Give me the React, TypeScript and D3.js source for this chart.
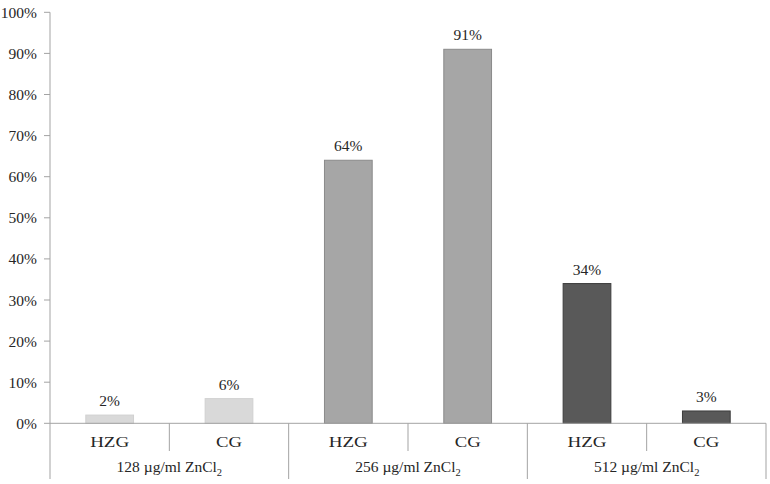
import * as d3 from "d3";

const WIDTH = 770;
const HEIGHT = 484;
const X0 = 50;
const X1 = 766;
const Y0 = 423.3;
const Y1 = 12.3;

const groups = ["128", "256", "512"];
const groupLabels = ["128 µg/ml ZnCl", "256 µg/ml ZnCl", "512 µg/ml ZnCl"];
const subs = ["HZG", "CG"];
const values = [
  [0.02, 0.06],
  [0.64, 0.91],
  [0.34, 0.03],
];
const yTicks = [0, 0.1, 0.2, 0.3, 0.4, 0.5, 0.6, 0.7, 0.8, 0.9, 1.0];

const fills = ["#d9d9d9", "#a6a6a6", "#595959"];
const strokes = ["#d0d0d0", "#8a8a8a", "#3c3c3c"];
const AXIS = "#a3a3a3";
const FONT = "Liberation Serif, Times New Roman, serif";
const TEXT = "#262626";
const textStyle = { fontFamily: FONT, fontSize: "15.5px" };
// the reference's capitals run a little wider than Liberation Serif's
const subWidth: Record<string, number> = { HZG: 39, CG: 26 };

export default function App() {
  const x = d3.scaleBand<string>().domain(groups).range([X0, X1]).padding(0);
  const xSub = d3
    .scaleBand<string>()
    .domain(subs)
    .range([0, x.bandwidth()])
    .paddingInner(0.6)
    .paddingOuter(0.3);
  const xSlot = d3.scaleBand<string>().domain(subs).range([0, x.bandwidth()]).padding(0);
  const y = d3.scaleLinear().domain([0, 1]).range([Y0, Y1]);
  const pct = d3.format(".0%");

  return (
    <svg
      width={WIDTH}
      height={HEIGHT}
      style={{ position: "absolute", left: 0, top: 0, background: "#fff" }}
    >
      {/* y axis */}
      <line x1={X0} x2={X0} y1={Y1} y2={Y0} stroke={AXIS} strokeWidth={1} />
      {yTicks.map((t) => (
        <g key={t}>
          <line x1={X0 - 6} x2={X0} y1={y(t)} y2={y(t)} stroke={AXIS} />
          <text x={37} y={y(t) + 5.5} textAnchor="end" style={textStyle} fill={TEXT}>
            {pct(t)}
          </text>
        </g>
      ))}

      {/* bars */}
      {groups.map((g, gi) =>
        subs.map((s, si) => {
          const v = values[gi][si];
          const bx = (x(g) ?? 0) + (xSub(s) ?? 0);
          const bw = xSub.bandwidth();
          return (
            <g key={g + s}>
              <rect
                x={bx}
                y={y(v)}
                width={bw}
                height={Y0 - y(v)}
                fill={fills[gi]}
                stroke={strokes[gi]}
                strokeWidth={1}
              />
              <text
                x={bx + bw / 2}
                y={y(v) - 9}
                textAnchor="middle"
                style={textStyle}
                fill={TEXT}
              >
                {pct(v)}
              </text>
            </g>
          );
        })
      )}

      {/* x axis */}
      <line x1={X0} x2={X1} y1={Y0} y2={Y0} stroke={AXIS} />
      {groups.map((g) => (
        <line
          key={"gl" + g}
          x1={(x(g) ?? 0) + x.bandwidth()}
          x2={(x(g) ?? 0) + x.bandwidth()}
          y1={Y0}
          y2={479}
          stroke={AXIS}
        />
      ))}
      <line x1={X0} x2={X0} y1={Y0} y2={479} stroke={AXIS} />
      {groups.map((g) => (
        <line
          key={"sl" + g}
          x1={(x(g) ?? 0) + (xSlot("CG") ?? 0)}
          x2={(x(g) ?? 0) + (xSlot("CG") ?? 0)}
          y1={Y0}
          y2={451}
          stroke={AXIS}
        />
      ))}
      {groups.map((g) =>
        subs.map((s) => (
          <text
            key={"st" + g + s}
            x={(x(g) ?? 0) + (xSlot(s) ?? 0) + xSlot.bandwidth() / 2}
            y={447}
            textAnchor="middle"
            textLength={subWidth[s]}
            lengthAdjust="spacingAndGlyphs"
            style={textStyle}
            fill={TEXT}
          >
            {s}
          </text>
        ))
      )}
      {groups.map((g, gi) => (
        <text
          key={"gt" + g}
          x={(x(g) ?? 0) + x.bandwidth() / 2}
          y={472}
          textAnchor="middle"
          style={textStyle}
          fill={TEXT}
        >
          {groupLabels[gi]}
          <tspan style={{ fontSize: "10.5px" }} dy={4}>
            2
          </tspan>
        </text>
      ))}
    </svg>
  );
}
